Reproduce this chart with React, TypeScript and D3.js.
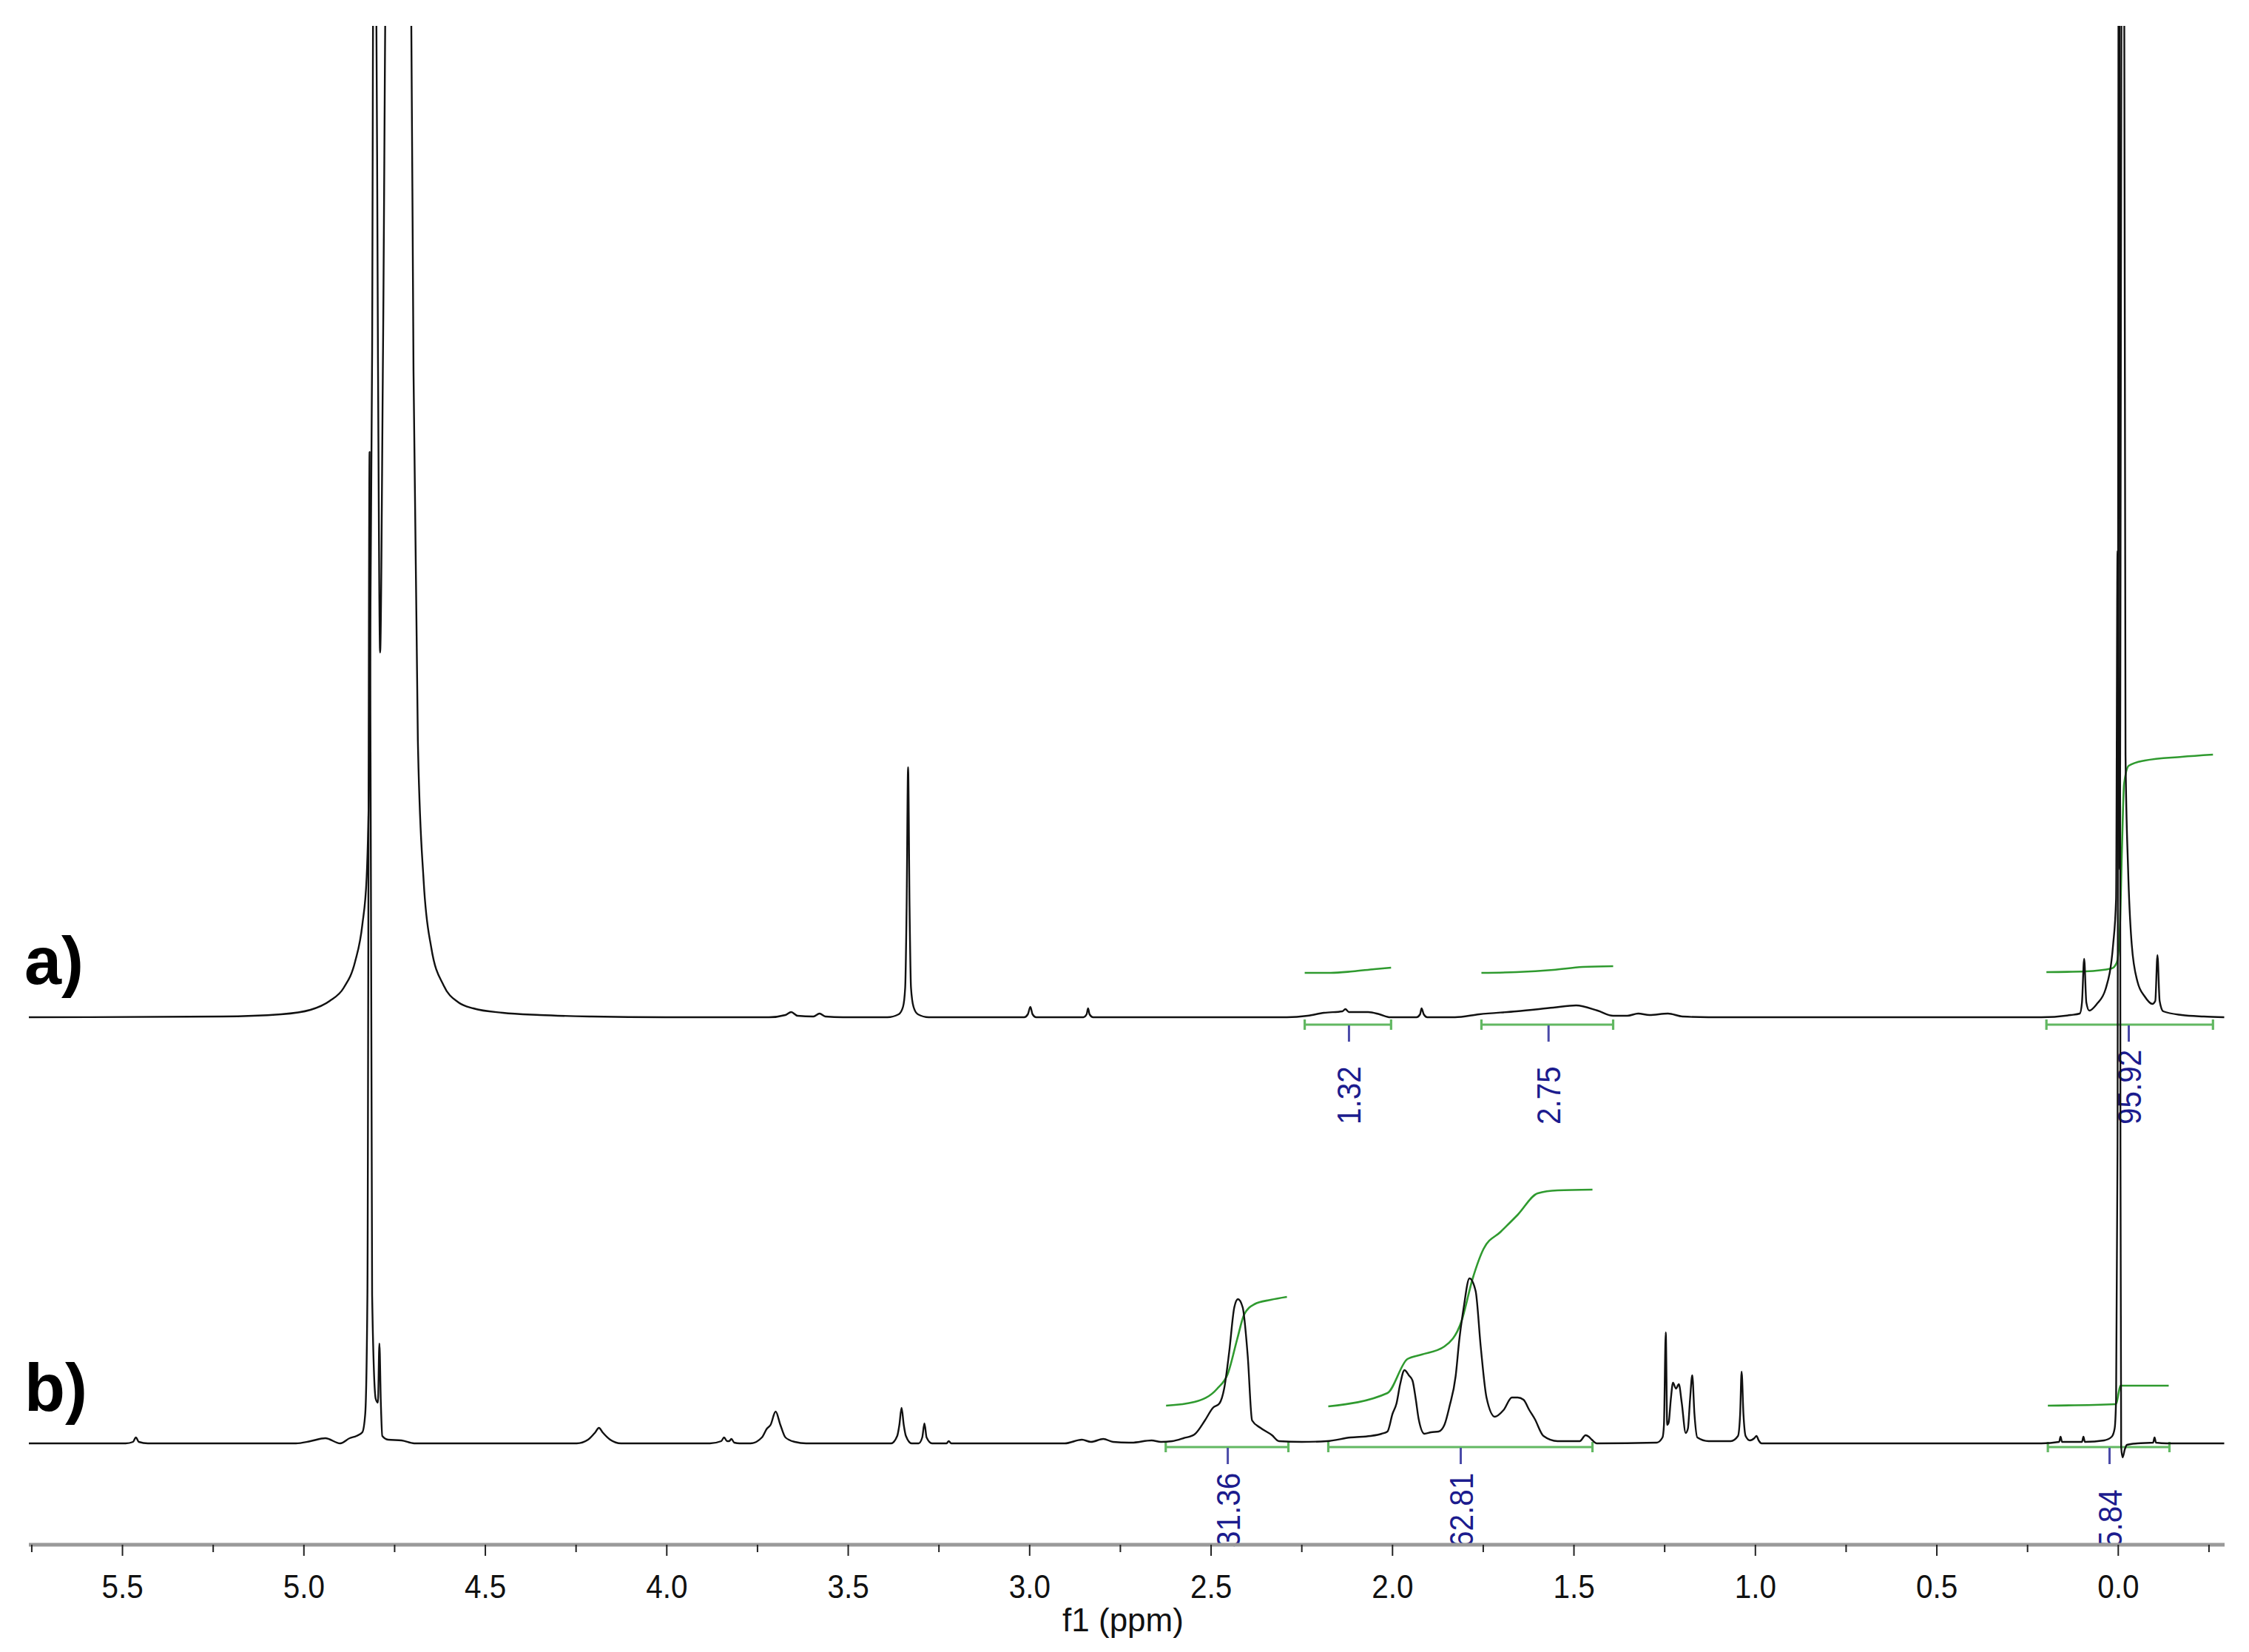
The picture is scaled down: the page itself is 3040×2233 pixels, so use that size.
import React from 'react';
import * as d3 from 'd3';

type Pt = [number, number];

// ---------- DATA (ppm, relative intensity) ----------
const ppmDomain: [number, number] = [5.758, -0.293];
const majorTicks = [5.5, 5.0, 4.5, 4.0, 3.5, 3.0, 2.5, 2.0, 1.5, 1.0, 0.5, 0.0];
const minorTicks = [5.75, 5.25, 4.75, 4.25, 3.75, 3.25, 2.75, 2.25, 1.75, 1.25, 0.75, 0.25, -0.25];
const axisTitle = 'f1 (ppm)';
const spectrumNames = ['a)', 'b)'];

const spectrumA: Pt[] = [
  [5.758, 0], [5.226, 0.1], [5.063, 0.4], [4.982, 1.0], [4.929, 2.2], [4.890, 4.0], [4.859, 7.5], [4.839, 12.5],
  [4.827, 19], [4.819, 37.5], [4.812, 90], [4.808, 150], [4.802, 150], [4.796, 90], [4.790, 49.3], [4.782, 90],
  [4.772, 150], [4.711, 150], [4.704, 134], [4.698, 87.5], [4.686, 37.5], [4.670, 18.4], [4.649, 9.4], [4.615, 4.3],
  [4.574, 2.0], [4.533, 1.2], [4.452, 0.6], [4.350, 0.3], [4.207, 0.1], [4.003, 0],
  [3.718, 0], [3.673, 0.3], [3.657, 0.7], [3.640, 0.2], [3.596, 0.1], [3.579, 0.5], [3.563, 0.1], [3.514, 0],
  [3.392, 0], [3.361, 0.4], [3.349, 1.4], [3.343, 4.0], [3.339, 15], [3.335, 33.8], [3.331, 15], [3.327, 4.0],
  [3.320, 1.4], [3.308, 0.4], [3.278, 0],
  [3.015, 0], [3.005, 0.4], [2.998, 1.4], [2.992, 0.4], [2.982, 0],
  [2.852, 0], [2.843, 0.4], [2.839, 1.2], [2.835, 0.4], [2.825, 0],
  [2.291, 0], [2.234, 0.2], [2.189, 0.6], [2.138, 0.8], [2.130, 1.1], [2.120, 0.7], [2.067, 0.7], [2.036, 0.4], [2.006, 0],
  [1.934, 0], [1.924, 0.4], [1.920, 1.2], [1.914, 0.4], [1.904, 0],
  [1.828, 0], [1.761, 0.4], [1.659, 0.8], [1.557, 1.3], [1.494, 1.6], [1.435, 0.9], [1.392, 0.2], [1.353, 0.2],
  [1.323, 0.5], [1.292, 0.3], [1.241, 0.5], [1.201, 0.1], [1.129, 0],
  [0.212, 0], [0.131, 0.3], [0.106, 0.5], [0.100, 2.0], [0.094, 7.9], [0.088, 2.0], [0.080, 0.9], [0.059, 1.8],
  [0.035, 3.8], [0.014, 9.9], [0.006, 16], [0.002, 63], [-0.004, 20], [-0.010, 150], [-0.016, 150], [-0.020, 35.5],
  [-0.027, 20.2], [-0.037, 9.9], [-0.053, 4.8], [-0.073, 2.8], [-0.094, 1.8], [-0.102, 2.2], [-0.108, 8.4],
  [-0.114, 2.2], [-0.124, 0.8], [-0.175, 0.3], [-0.236, 0.1], [-0.292, 0],
];

const spectrumB: Pt[] = [
  [5.758, 0], [5.491, 0], [5.471, 0.2], [5.463, 0.8], [5.455, 0.2], [5.430, 0], [5.022, 0], [4.982, 0.3], [4.941, 0.7],
  [4.900, 0], [4.874, 0.7], [4.855, 1.0], [4.839, 1.5], [4.831, 4.0], [4.825, 20], [4.819, 134], [4.812, 20],
  [4.802, 6.0], [4.796, 5.5], [4.792, 13.5], [4.788, 5.5], [4.784, 1.0], [4.768, 0.5], [4.731, 0.4], [4.696, 0],
  [4.248, 0], [4.217, 0.5], [4.197, 1.5], [4.187, 2.1], [4.177, 1.5], [4.156, 0.5], [4.126, 0],
  [3.881, 0], [3.850, 0.3], [3.842, 0.8], [3.834, 0.3], [3.828, 0.3], [3.822, 0.6], [3.814, 0.1], [3.799, 0],
  [3.769, 0], [3.738, 0.8], [3.724, 2.0], [3.714, 2.5], [3.700, 4.3], [3.687, 2.5], [3.673, 0.8], [3.647, 0.2], [3.616, 0],
  [3.382, 0], [3.365, 1.0], [3.359, 2.5], [3.353, 4.8], [3.347, 2.5], [3.341, 1.0], [3.325, 0],
  [3.306, 0], [3.296, 0.8], [3.290, 2.7], [3.284, 0.8], [3.269, 0],
  [3.229, 0], [3.223, 0.3], [3.216, 0],
  [2.903, 0], [2.856, 0.5], [2.831, 0.2], [2.797, 0.6], [2.770, 0.2], [2.719, 0.1], [2.664, 0.4], [2.638, 0.2],
  [2.607, 0.3], [2.576, 0.7], [2.546, 1.2], [2.517, 3.1], [2.495, 4.8], [2.477, 5.4], [2.464, 7.4], [2.450, 12.4],
  [2.436, 18.4], [2.426, 19.5], [2.413, 18.4], [2.399, 11.8], [2.387, 3.1], [2.364, 2.1], [2.332, 1.1], [2.313, 0.3],
  [2.250, 0.2], [2.181, 0.3],
  [2.116, 0.8], [2.061, 1.0], [2.030, 1.3], [2.014, 1.6], [2.000, 4.0], [1.989, 5.4], [1.979, 8.0], [1.967, 9.9],
  [1.955, 9.2], [1.945, 8.5], [1.936, 6.0], [1.928, 3.3], [1.912, 1.3], [1.894, 1.5], [1.873, 1.6], [1.857, 2.5],
  [1.843, 5.0], [1.826, 9.1], [1.816, 14], [1.804, 18.3], [1.788, 22.3], [1.771, 20.6], [1.757, 13.1], [1.741, 6.2],
  [1.718, 3.6], [1.694, 4.5], [1.671, 6.2], [1.655, 6.2], [1.639, 5.9], [1.623, 4.5], [1.608, 3.3], [1.584, 1.0],
  [1.545, 0.3], [1.484, 0.3], [1.468, 1.1], [1.459, 0.9], [1.451, 0.5], [1.437, 0],
  [1.272, 0.1], [1.256, 0.8], [1.252, 2.5], [1.247, 15], [1.243, 2.5], [1.239, 2.8], [1.233, 6.0], [1.227, 8.2],
  [1.219, 7.4], [1.211, 8.0], [1.203, 5.5], [1.192, 1.4], [1.186, 2.0], [1.180, 6.0], [1.174, 9.2], [1.168, 4.0],
  [1.160, 0.8], [1.129, 0.3], [1.068, 0.3], [1.048, 1.0], [1.042, 4.0], [1.038, 9.7], [1.033, 4.0], [1.027, 1.0],
  [1.015, 0.4], [1.003, 0.7], [0.997, 1.0], [0.991, 0.4], [0.983, 0],
  [0.212, 0], [0.163, 0.2], [0.159, 0.9], [0.155, 0.2], [0.100, 0.2], [0.096, 0.9], [0.092, 0.2], [0.039, 0.4],
  [0.018, 0.9], [0.010, 2.0], [0.006, 6.0], [0.002, 40], [-0.002, 250], [-0.006, 40], [-0.008, -0.5], [-0.012, -1.9],
  [-0.018, -0.8], [-0.024, -0.2], [-0.053, 0], [-0.096, 0.1], [-0.100, 0.8], [-0.104, 0.1], [-0.134, 0], [-0.292, 0],
];

// integral curves (ppm, relative height above baseline)
const integralCurvesA: Pt[][] = [
  [[2.242, 6.0], [2.17, 6.0], [2.11, 6.2], [2.05, 6.5], [2.004, 6.7]],
  [[1.755, 6.0], [1.659, 6.1], [1.557, 6.4], [1.476, 6.8], [1.392, 6.9]],
  [[0.198, 6.1], [0.090, 6.2], [0.018, 6.6], [0.004, 7.4], [-0.004, 11.5], [-0.010, 22.5], [-0.016, 31.5],
   [-0.029, 34.0], [-0.073, 34.7], [-0.175, 35.2], [-0.261, 35.5]],
];
const integralCurvesB: Pt[][] = [
  [[2.624, 5.1], [2.546, 5.6], [2.483, 7.4], [2.454, 9.4], [2.428, 14.1], [2.409, 17.4], [2.381, 18.8],
   [2.336, 19.4], [2.291, 19.8]],
  [[2.177, 5.0], [2.014, 6.8], [1.959, 11.4], [1.920, 12.0], [1.857, 13.1], [1.810, 16.5], [1.779, 22.3],
   [1.749, 26.3], [1.702, 28.6], [1.655, 30.9], [1.600, 33.8], [1.545, 34.2], [1.449, 34.3]],
  [[0.194, 5.1], [0.008, 5.3], [0.004, 5.6], [-0.002, 7.1], [-0.006, 7.8], [-0.139, 7.8]],
];

const integralRangesA: [number, number][] = [[2.242, 2.004], [1.755, 1.392], [0.198, -0.261]];
const integralMarksA = [2.12, 1.57, -0.029];
const integralValuesA = ['1.32', '2.75', '95.92'];

const integralRangesB: [number, number][] = [[2.625, 2.287], [2.177, 1.449], [0.194, -0.141]];
const integralMarksB = [2.454, 1.812, 0.024];
const integralValuesB = ['31.36', '62.81', '5.84'];

// ---------- LAYOUT ----------
const W = 3040;
const H = 2233;
const plotLeft = 39;
const plotRight = 3007;
const clipTop = 35;
const axisY = 2088;
const FONT = "'Liberation Sans', Arial, Helvetica, sans-serif";
const GREEN_CURVE = '#2f9a2f';
const GREEN_BRACKET = '#62b862';
const NAVY = '#1c1c8e';

const panels = [
  { name: spectrumNames[0], data: spectrumA, base: 1375, bracketDy: 10, labelBottom: 1520, nameY: 1330,
    curves: integralCurvesA, ranges: integralRangesA, marks: integralMarksA, values: integralValuesA },
  { name: spectrumNames[1], data: spectrumB, base: 1951, bracketDy: 5, labelBottom: 2092, nameY: 1907,
    curves: integralCurvesB, ranges: integralRangesB, marks: integralMarksB, values: integralValuesB },
];

export default function App() {
  const x = d3.scaleLinear().domain(ppmDomain).range([plotLeft, plotRight]);
  const fmt = d3.format('.1f');

  return (
    <svg width={W} height={H} viewBox={`0 0 ${W} ${H}`}
      style={{ position: 'absolute', left: 0, top: 0, background: '#fff', display: 'block' }}>
      <rect x={0} y={0} width={W} height={H} fill="#fff" />
      <defs>
        <clipPath id="plotclip">
          <rect x={0} y={clipTop} width={W} height={H - clipTop} />
        </clipPath>
      </defs>

      {panels.map((p, pi) => {
        const y = d3.scaleLinear().domain([0, 100]).range([p.base, p.base - 1000]);
        const line = d3.line<Pt>().x(d => x(d[0])).y(d => y(d[1])).curve(d3.curveMonotoneX);
        const by = p.base + p.bracketDy;
        return (
          <g key={pi}>
            {/* integral curves */}
            {p.curves.map((c, ci) => (
              <path key={'c' + ci} d={line(c) || ''} fill="none" stroke={GREEN_CURVE} strokeWidth={2.6} />
            ))}
            {/* brackets */}
            {p.ranges.map((r, ri) => (
              <g key={'b' + ri} stroke={GREEN_BRACKET} strokeWidth={3.2}>
                <line x1={x(r[0])} x2={x(r[1])} y1={by} y2={by} />
                <line x1={x(r[0])} x2={x(r[0])} y1={by - 7} y2={by + 7} />
                <line x1={x(r[1])} x2={x(r[1])} y1={by - 7} y2={by + 7} />
              </g>
            ))}
            {/* spectrum */}
            <path d={line(p.data) || ''} fill="none" stroke="#111" strokeWidth={2.4}
              strokeLinejoin="round" clipPath="url(#plotclip)" />
            {/* integral marks and values */}
            {p.marks.map((m, mi) => (
              <g key={'m' + mi}>
                <line x1={x(m)} x2={x(m)} y1={by + 1} y2={by + 23} stroke="#4a4aa8" strokeWidth={3} />
                <text transform={`translate(${x(m) + 16},${p.labelBottom}) rotate(-90) scale(0.9,1)`}
                  fontFamily={FONT} fontSize={45} fill={NAVY} textAnchor="start">{p.values[mi]}</text>
              </g>
            ))}
            {/* panel name */}
            <text x={33} y={p.nameY} fontFamily={FONT} fontWeight="bold" fontSize={90} fill="#000">{p.name}</text>
          </g>
        );
      })}

      {/* axis */}
      <line x1={plotLeft} x2={plotRight} y1={axisY} y2={axisY} stroke="#9a9a9a" strokeWidth={5} />
      {minorTicks.map(t => (
        <line key={'mi' + t} x1={x(t)} x2={x(t)} y1={axisY} y2={axisY + 10} stroke="#222" strokeWidth={2} />
      ))}
      {majorTicks.map(t => (
        <g key={'ma' + t}>
          <line x1={x(t)} x2={x(t)} y1={axisY} y2={axisY + 15} stroke="#222" strokeWidth={2} />
          <text transform={`translate(${x(t)},${2160}) scale(0.9,1)`} textAnchor="middle"
            fontFamily={FONT} fontSize={45} fill="#111">{fmt(t)}</text>
        </g>
      ))}
      <text x={1518} y={2205} textAnchor="middle" fontFamily={FONT} fontSize={44} fill="#111">{axisTitle}</text>
    </svg>
  );
}
